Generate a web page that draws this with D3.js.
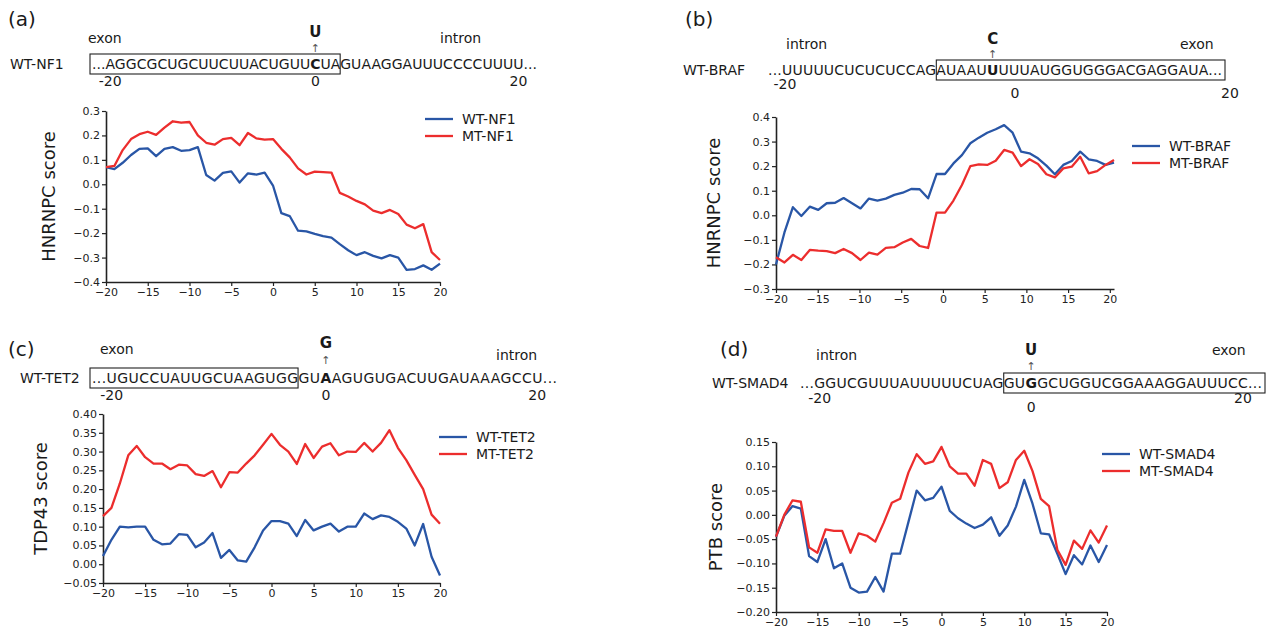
<!DOCTYPE html>
<html>
<head>
<meta charset="utf-8">
<script src="https://cdn.jsdelivr.net/npm/d3@7"></script>
<style>
  body { margin: 0; background: #fff; }
  text { font-family: "DejaVu Sans", Verdana, sans-serif; fill: #1a1a1a; }
  .axis .domain { stroke: #222; stroke-width: 1.6; }
  .axis .tick line { stroke: #222; stroke-width: 1.2; }
  .axis .tick text { font-size: 11px; fill: #222; }
</style>
</head>
<body>
<svg id="fig" width="1274" height="628"></svg>
<script>
// positions relative to the variant site
const positions = d3.range(-20, 21);
// panel (b) points sit on a slightly stretched grid
const positionsB = d3.range(41).map(i => -20 + i * 1.0125);
const xTicks = [-20, -15, -10, -5, 0, 5, 10, 15, 20];

// sequences (41 nt, variant at index 20)
const seqNF1 = 'AGGCGCUGCUUCUUACUGUUCUAGUAAGGAUUUCCCCUUUU';
const seqBRAF = 'UUUUUCUCUCUCCAGAUAAUUUUUAUGGUGGGACGAGGAUA';
const seqTET2 = 'UGUCCUAUUGCUAAGUGGGUAAGUGUGACUUGAUAAAGCCU';
const seqSMAD4 = 'GGUCGUUUAUUUUUCUAGGUGGCUGGUCGGAAAGGAUUUCC';

// scores
const wtNF1 = [0.07, 0.062, 0.088, 0.12, 0.145, 0.147, 0.115, 0.145, 0.152, 0.137, 0.14,
  0.152, 0.038, 0.015, 0.047, 0.053, 0.007, 0.045, 0.04, 0.048, -0.005,
  -0.118, -0.13, -0.19, -0.193, -0.203, -0.212, -0.218, -0.245, -0.27, -0.29,
  -0.278, -0.293, -0.303, -0.29, -0.3, -0.35, -0.347, -0.332, -0.35, -0.325];
const mtNF1 = [0.07, 0.075, 0.14, 0.185, 0.205, 0.215, 0.202, 0.232, 0.258, 0.252, 0.255,
  0.2, 0.17, 0.162, 0.185, 0.19, 0.16, 0.21, 0.188, 0.183, 0.185,
  0.145, 0.11, 0.065, 0.04, 0.052, 0.05, 0.048, -0.035, -0.05, -0.068,
  -0.082, -0.108, -0.118, -0.105, -0.122, -0.165, -0.18, -0.163, -0.278, -0.31];

const wtBRAF = [-0.2, -0.07, 0.033, -0.003, 0.035, 0.022, 0.049, 0.051, 0.07, 0.049, 0.028,
  0.068, 0.06, 0.068, 0.083, 0.092, 0.107, 0.106, 0.069, 0.168, 0.168,
  0.211, 0.245, 0.293, 0.316, 0.336, 0.35, 0.367, 0.336, 0.259, 0.252,
  0.232, 0.202, 0.167, 0.205, 0.221, 0.259, 0.228, 0.221, 0.205, 0.214];
const mtBRAF = [-0.171, -0.192, -0.161, -0.182, -0.141, -0.144, -0.146, -0.154, -0.137, -0.154, -0.182,
  -0.152, -0.16, -0.133, -0.13, -0.111, -0.096, -0.125, -0.133, 0.011, 0.011,
  0.06, 0.123, 0.2, 0.207, 0.205, 0.222, 0.266, 0.255, 0.2, 0.228,
  0.209, 0.167, 0.154, 0.191, 0.198, 0.238, 0.171, 0.18, 0.205, 0.225];

const wtTET2 = [0.022, 0.065, 0.1, 0.098, 0.1, 0.1, 0.065, 0.053, 0.055, 0.08, 0.078,
  0.045, 0.058, 0.083, 0.017, 0.038, 0.01, 0.007, 0.045, 0.09, 0.115,
  0.115, 0.108, 0.075, 0.118, 0.09, 0.1, 0.108, 0.087, 0.1, 0.1,
  0.135, 0.12, 0.13, 0.126, 0.113, 0.095, 0.05, 0.107, 0.02, -0.03];
const mtTET2 = [0.128, 0.15, 0.215, 0.29, 0.315, 0.285, 0.268, 0.268, 0.253, 0.265, 0.263,
  0.24, 0.235, 0.248, 0.205, 0.245, 0.244, 0.268, 0.29, 0.318, 0.347,
  0.318, 0.3, 0.267, 0.32, 0.283, 0.313, 0.322, 0.29, 0.3, 0.299,
  0.323, 0.3, 0.323, 0.357, 0.31, 0.277, 0.238, 0.2, 0.132, 0.108];

const wtSMAD4 = [-0.045, -0.002, 0.018, 0.013, -0.085, -0.097, -0.05, -0.11, -0.1, -0.15, -0.16,
  -0.158, -0.128, -0.158, -0.08, -0.08, -0.015, 0.05, 0.03, 0.035, 0.058,
  0.008, -0.007, -0.018, -0.027, -0.02, -0.005, -0.043, -0.022, 0.017, 0.072,
  0.023, -0.038, -0.04, -0.08, -0.122, -0.083, -0.102, -0.063, -0.097, -0.062];
const mtSMAD4 = [-0.045, 0.0, 0.03, 0.027, -0.067, -0.078, -0.03, -0.033, -0.033, -0.078, -0.038,
  -0.043, -0.055, -0.017, 0.025, 0.033, 0.087, 0.125, 0.105, 0.11, 0.14,
  0.1, 0.085, 0.085, 0.06, 0.113, 0.105, 0.055, 0.067, 0.113, 0.132,
  0.09, 0.033, 0.018, -0.072, -0.103, -0.053, -0.07, -0.032, -0.057, -0.022];

const yTicksA = [-0.4, -0.3, -0.2, -0.1, 0, 0.1, 0.2, 0.3];
const yTicksB = [-0.3, -0.2, -0.1, 0, 0.1, 0.2, 0.3, 0.4];
const yTicksC = [-0.05, 0, 0.05, 0.1, 0.15, 0.2, 0.25, 0.3, 0.35, 0.4];
const yTicksD = [-0.2, -0.15, -0.1, -0.05, 0, 0.05, 0.1, 0.15];

const BLUE = '#2956a6';
const RED = '#ec2d2d';

const svg = d3.select('#fig');

const panels = [
  {
    label: '(a)', labelX: 8, labelY: 26,
    name: 'WT-NF1', nameX: 10, seqX: 92, seqY: 69, seqW: 445, seq: seqNF1, alt: 'U',
    altY: 37, arrowY: 52, box: [null, 22],
    regions: [['exon', 88, 43], ['intron', 440, 43]],
    numbers: [['-20', -20, 86], ['0', 0, 86], ['20', 20, 86]],
    xs: positions, xDomain: [-20, 20], xRange: [106, 440],
    yDomain: [-0.4, 0.3], yRange: [282, 111], yTicks: yTicksA, fmt: '.1f',
    ylabel: 'HNRNPC score', ylabelX: 48,
    series: [['WT-NF1', wtNF1, BLUE], ['MT-NF1', mtNF1, RED]],
    legendX: 425, legendY: 119
  },
  {
    label: '(b)', labelX: 685, labelY: 26,
    name: 'WT-BRAF', nameX: 683, seqX: 768, seqY: 75, seqW: 454, seq: seqBRAF, alt: 'C',
    altY: 44, arrowY: 58, box: [15, null],
    regions: [['intron', 786, 49], ['exon', 1180, 49]],
    numbers: [['-20', 785, 89, true], ['0', 1015, 98, true], ['20', 1230, 98, true]],
    xs: positionsB, xDomain: [-20, 20.5], xRange: [776, 1114],
    yDomain: [-0.3, 0.4], yRange: [289, 117], yTicks: yTicksB, fmt: '.1f',
    ylabel: 'HNRNPC score', ylabelX: 713,
    series: [['WT-BRAF', wtBRAF, BLUE], ['MT-BRAF', mtBRAF, RED]],
    legendX: 1132, legendY: 146
  },
  {
    label: '(c)', labelX: 8, labelY: 356,
    name: 'WT-TET2', nameX: 20, seqX: 92, seqY: 383, seqW: 465, seq: seqTET2, alt: 'G',
    altY: 348, arrowY: 364, box: [null, 17],
    regions: [['exon', 100, 354], ['intron', 496, 360]],
    numbers: [['-20', -20, 400], ['0', 0, 400], ['20', 20, 400]],
    xs: positions, xDomain: [-20, 20], xRange: [103, 440],
    yDomain: [-0.05, 0.4], yRange: [583, 414], yTicks: yTicksC, fmt: '.2f',
    ylabel: 'TDP43 score', ylabelX: 40,
    series: [['WT-TET2', wtTET2, BLUE], ['MT-TET2', mtTET2, RED]],
    legendX: 439, legendY: 437
  },
  {
    label: '(d)', labelX: 720, labelY: 356,
    name: 'WT-SMAD4', nameX: 712, seqX: 800, seqY: 388, seqW: 462, seq: seqSMAD4, alt: 'U',
    altY: 355, arrowY: 370, box: [18, null],
    regions: [['intron', 816, 360], ['exon', 1212, 355]],
    numbers: [['-20', -20, 403], ['0', 0, 412], ['20', 20, 403]],
    xs: positions, xDomain: [-20, 20], xRange: [776, 1107],
    yDomain: [-0.2, 0.15], yRange: [612, 442], yTicks: yTicksD, fmt: '.2f',
    ylabel: 'PTB score', ylabelX: 715,
    series: [['WT-SMAD4', wtSMAD4, BLUE], ['MT-SMAD4', mtSMAD4, RED]],
    legendX: 1102, legendY: 454
  }
];

function drawHeader(p) {
  const g = svg.append('g');
  g.append('text').attr('x', p.labelX).attr('y', p.labelY)
    .attr('font-size', 20).text(p.label);
  p.regions.forEach(([t, x, y]) => {
    g.append('text').attr('x', x).attr('y', y).attr('font-size', 14).text(t);
  });
  g.append('text').attr('x', p.nameX).attr('y', p.seqY)
    .attr('font-size', 14).text(p.name);

  const full = '...' + p.seq + '...';
  const m = 3 + 20; // variant char
  const t = g.append('text').attr('x', p.seqX).attr('y', p.seqY).attr('font-size', 14)
    .attr('textLength', p.seqW).attr('lengthAdjust', 'spacing');
  t.append('tspan').text(full.slice(0, m));
  t.append('tspan').attr('font-weight', 'bold').text(full[m]);
  t.append('tspan').text(full.slice(m + 1));

  const node = t.node();
  const ext = i => node.getExtentOfChar(i);
  const mid = i => { const e = ext(i); return e.x + e.width / 2; };

  // box round exon part
  const x0 = p.box[0] === null ? ext(0).x - 2 : ext(p.box[0] + 3).x;
  const last = p.box[1] === null ? ext(full.length - 1) : ext(p.box[1] + 3);
  const x1 = last.x + last.width + (p.box[1] === null ? 3 : 0);
  g.append('rect').attr('x', x0).attr('y', p.seqY - 15)
    .attr('width', x1 - x0).attr('height', 20)
    .attr('fill', 'none').attr('stroke', '#222').attr('stroke-width', 1.1);

  // alternative base and arrow
  const xm = mid(m);
  g.append('text').attr('x', xm).attr('y', p.altY).attr('text-anchor', 'middle')
    .attr('font-size', 15).attr('font-weight', 'bold').text(p.alt);
  g.append('text').attr('x', xm).attr('y', p.arrowY).attr('text-anchor', 'middle')
    .attr('font-size', 11).style('fill', '#555').text('\u2191');

  // position numbers
  p.numbers.forEach(([label, pos, y, absolute]) => {
    const x = absolute ? pos : mid(pos + 20 + 3);
    g.append('text').attr('x', x).attr('y', y).attr('text-anchor', 'middle')
      .attr('font-size', 14).text(label);
  });
}

function drawPlot(p) {
  const x = d3.scaleLinear().domain(p.xDomain).range(p.xRange);
  const y = d3.scaleLinear().domain(p.yDomain).range(p.yRange);
  const g = svg.append('g');

  g.append('g').attr('class', 'axis')
    .attr('transform', 'translate(0,' + p.yRange[0] + ')')
    .call(d3.axisBottom(x).tickValues(xTicks).tickSize(4).tickPadding(2).tickSizeOuter(0));
  g.append('g').attr('class', 'axis')
    .attr('transform', 'translate(' + p.xRange[0] + ',0)')
    .call(d3.axisLeft(y).tickValues(p.yTicks).tickFormat(d3.format(p.fmt))
      .tickSize(4).tickPadding(2).tickSizeOuter(0));

  g.append('text')
    .attr('transform', 'translate(' + p.ylabelX + ',' + (p.yRange[0] + p.yRange[1]) / 2 + ') rotate(-90)')
    .attr('text-anchor', 'middle').attr('dominant-baseline', 'central')
    .attr('font-size', 18).text(p.ylabel);

  const line = d3.line().x((d, i) => x(p.xs[i])).y(d => y(d));
  p.series.forEach(([name, values, color], k) => {
    g.append('path').datum(values).attr('d', line)
      .attr('fill', 'none').attr('stroke', color).attr('stroke-width', 2.3)
      .attr('stroke-linejoin', 'round');
    const ly = p.legendY + k * 17;
    g.append('line').attr('x1', p.legendX).attr('x2', p.legendX + 28)
      .attr('y1', ly).attr('y2', ly).attr('stroke', color).attr('stroke-width', 2.3);
    g.append('text').attr('x', p.legendX + 37).attr('y', ly + 5)
      .attr('font-size', 14).text(name);
  });
}

panels.forEach(p => { drawHeader(p); drawPlot(p); });
</script>
</body>
</html>
